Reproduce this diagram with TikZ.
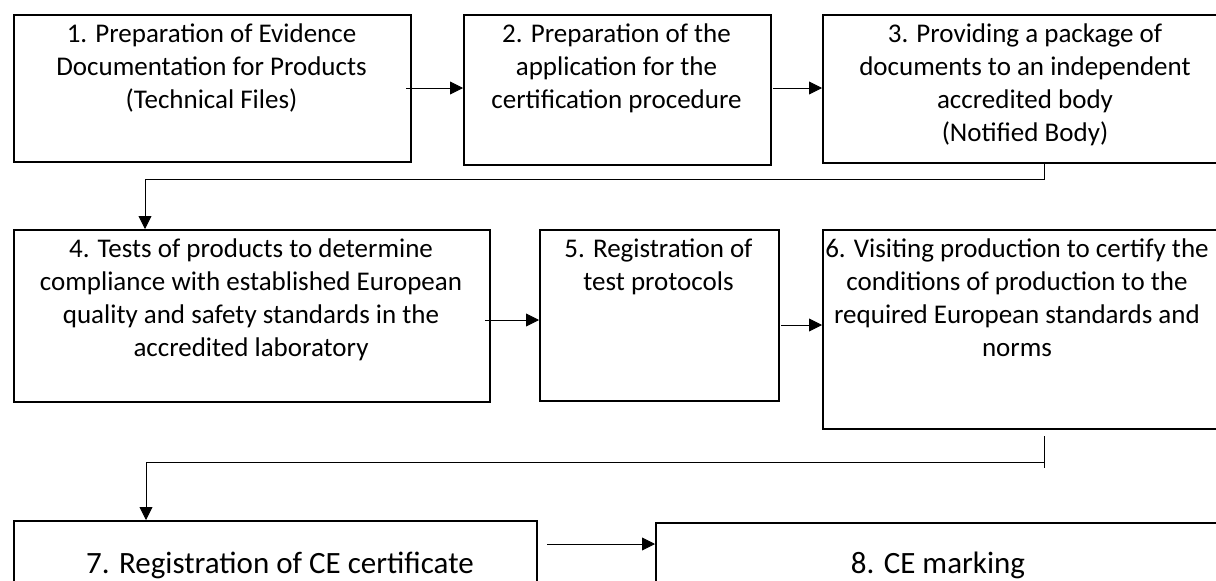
\documentclass[tikz,border=0pt]{standalone}
\usepackage{fontspec}
\setmainfont{Carlito}
\usetikzlibrary{arrows.meta}
\tikzset{
  box/.style={draw=black, line width=1.6pt, fill=white, inner sep=0pt, anchor=north west},
  txt/.style={font=\fontsize{27}{33}\selectfont, align=center, inner sep=0pt, anchor=north},
  bigtxt/.style={font=\fontsize{31}{37}\selectfont, inner sep=0pt, anchor=base},
  arr/.style={draw=black, line width=0.9pt, -{Triangle[length=13pt,width=13pt]}},
  link/.style={draw=black, line width=0.9pt}
}
\begin{document}
\begin{tikzpicture}[x=1pt,y=-1pt]
\useasboundingbox (0,0) rectangle (1216,581);
\fill[white] (0,0) rectangle (1216,581);
% row 1
\node[box, minimum width=397pt, minimum height=147pt] (b1) at (13,14) {};
\node[box, minimum width=307pt, minimum height=150pt] (b2) at (463,14) {};
\node[box, minimum width=406pt, minimum height=148pt] (b3) at (822,14) {};
\node[txt] (t1) at (211.5,19) {\strut 1. Preparation of Evidence\\Documentation for Products\\(Technical Files)};
\node[txt] (t2) at (616.5,19) {\strut 2. Preparation of the\\application for the\\certification procedure};
\node[txt] (t3) at (1025,19) {\strut 3. Providing a package of\\documents to an independent\\accredited body\\(Notified Body)};
% row 2
\node[box, minimum width=476pt, minimum height=172pt] (b4) at (13,229) {};
\node[box, minimum width=239pt, minimum height=171pt] (b5) at (539,229) {};
\node[box, minimum width=406pt, minimum height=199pt] (b6) at (822,229) {};
\node[txt] (t4) at (251,234) {\strut 4. Tests of products to determine\\compliance with established European\\quality and safety standards in the\\accredited laboratory};
\node[txt] (t5) at (658.5,234) {\strut 5. Registration of\\test protocols};
\node[txt] (t6) at (1017,234) {\strut 6. Visiting production to certify the\\conditions of production to the\\required European standards and\\norms};
% row 3
\node[box, minimum width=523pt, minimum height=80pt] (b7) at (13,520) {};
\node[box, minimum width=570pt, minimum height=80pt] (b8) at (655,522) {};
\node[bigtxt] (t7) at (280,573) {7. Registration of CE certificate};
\node[bigtxt] (t8) at (938,573) {8. CE marking};
% connectors row 1
\coordinate (s12) at (406,88);
\draw[arr] (s12) -- (s12 -| b2.west);
\coordinate (s23) at (773,88);
\draw[arr] (s23) -- (s23 -| b3.west);
% 3 -> 4
\coordinate (j1) at (1044,179);
\coordinate (e4) at (145,179);
\draw[arr] (b3.south -| j1) -- (j1) -- (e4) -- (e4 |- b4.north);
% row 2
\coordinate (s45) at (485,320);
\draw[arr] (s45) -- (s45 -| b5.west);
\coordinate (s56) at (781,325);
\draw[arr] (s56) -- (s56 -| b6.west);
% 6 -> 7
\coordinate (j2a) at (1044,436);
\coordinate (j2b) at (1044,468);
\coordinate (j2) at (1044,462);
\coordinate (e7) at (146,462);
\draw[link] (j2a) -- (j2b);
\draw[arr] (j2) -- (e7) -- (e7 |- b7.north);
% 7 -> 8
\coordinate (s78) at (547,544);
\draw[arr] (s78) -- (s78 -| b8.west);
\end{tikzpicture}
\end{document}
